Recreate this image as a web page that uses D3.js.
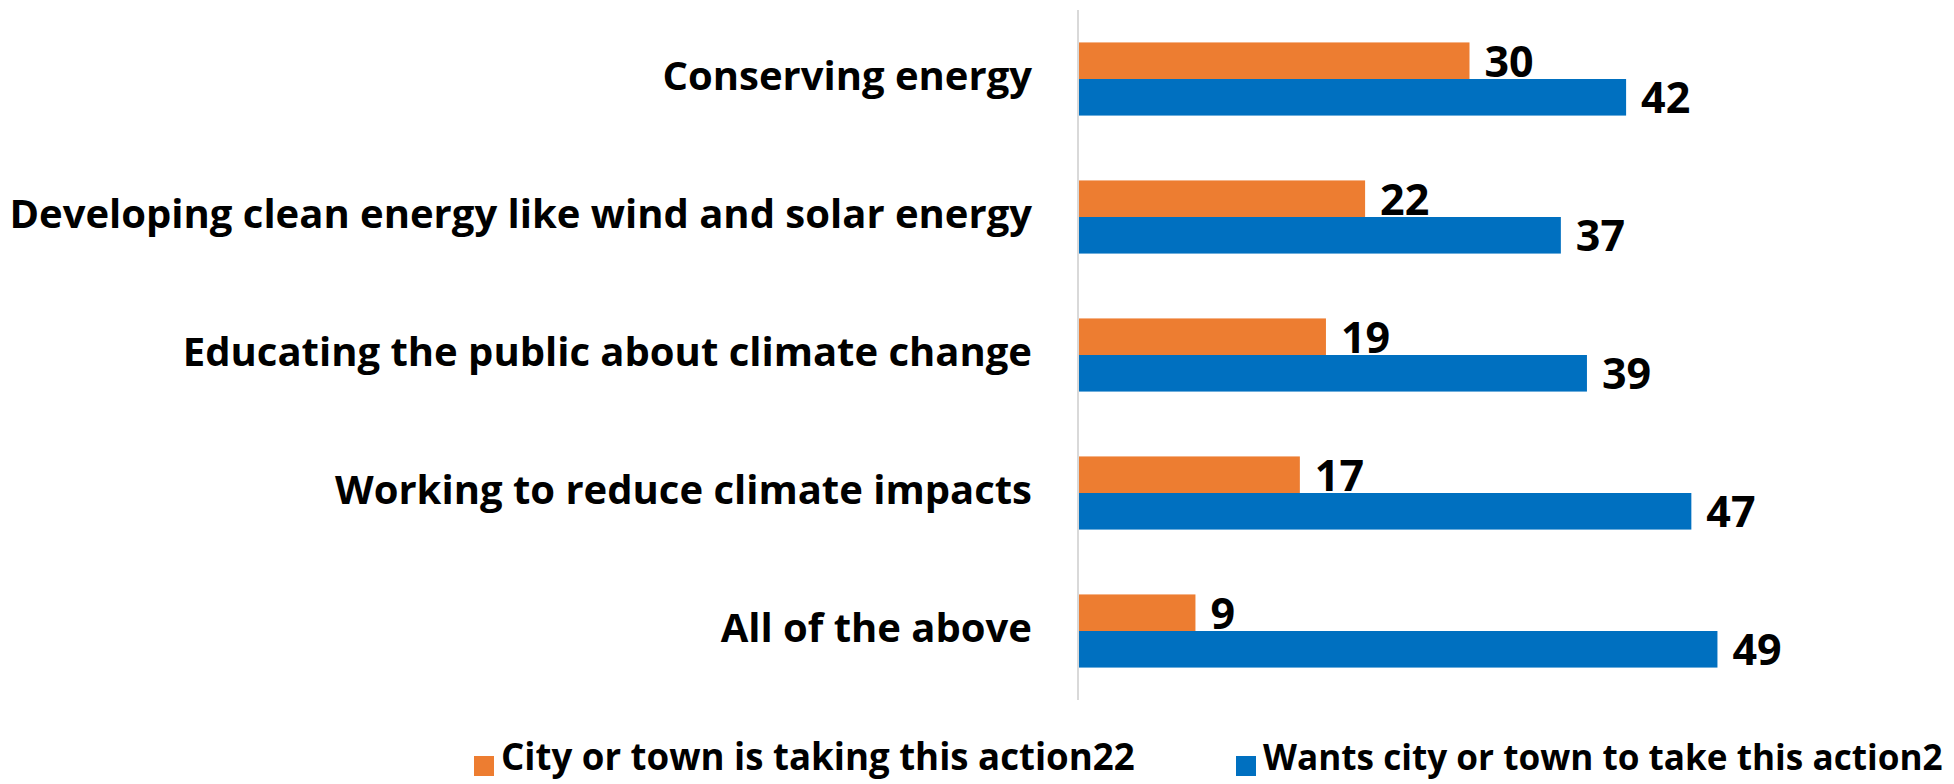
<!DOCTYPE html>
<html>
<head>
<meta charset="utf-8">
<script src="https://cdn.jsdelivr.net/npm/d3@7/dist/d3.min.js"></script>
<style>
  body { margin: 0; background: #ffffff; }
  text { font-family: "Open Sans", "Noto Sans", sans-serif; font-weight: bold; fill: #000000; }
</style>
</head>
<body>
<div id="chart"></div>
<script>
// categories, top to bottom
var categories = [
    "Conserving energy",
    "Developing clean energy like wind and solar energy",
    "Educating the public about climate change",
    "Working to reduce climate impacts",
    "All of the above"
];

// series
var seriesNames = ["City or town is taking this action22", "Wants city or town to take this action2"];
var takingValues = [30, 22, 19, 17, 9];
var wantsValues = [42, 37, 39, 47, 49];
var seriesColors = ["#ED7D31", "#0070C0"];

var width = 1954,
    height = 784;

//plot area
var plot = {left: 1078, right: 1861, top: 10, bottom: 700};

var svg = d3.select("#chart")
    .append("svg")
    .attr("width", width)
    .attr("height", height);

var x = d3.scaleLinear()
    .domain([0, 60])
    .range([plot.left, plot.right]);

var y = d3.scaleBand()
    .domain(categories)
    .range([plot.top, plot.bottom])
    .paddingInner(0.47)
    .paddingOuter(0.235);

var ySeries = d3.scaleBand()
    .domain([0, 1])
    .range([0, y.bandwidth()]);

//rows: one per category with both values
var rows = categories.map(function(c, i) {
    return {cat: c, values: [takingValues[i], wantsValues[i]]};
});

//bars
var groups = svg.append("g").attr("class", "bars")
    .selectAll("g")
    .data(rows).enter()
    .append("g")
    .attr("transform", function(d) { return "translate(0," + y(d.cat) + ")"; });

groups.selectAll("rect")
    .data(function(d) { return d.values.map(function(v, k) { return {k: k, v: v}; }); })
    .enter().append("rect")
    .attr("x", x(0))
    .attr("y", function(d) { return ySeries(d.k); })
    .attr("width", function(d) { return x(d.v) - x(0); })
    .attr("height", ySeries.bandwidth())
    .attr("fill", function(d) { return seriesColors[d.k]; });

//value labels
groups.selectAll("text")
    .data(function(d) { return d.values.map(function(v, k) { return {k: k, v: v}; }); })
    .enter().append("text")
    .attr("x", function(d) { return x(d.v) + 15; })
    .attr("y", function(d) { return ySeries(d.k) + ySeries.bandwidth() / 2 + 16; })
    .style("font-size", "43px")
    .text(function(d) { return d.v; });

//vertical axis line
svg.append("line")
    .attr("x1", x(0)).attr("x2", x(0))
    .attr("y1", plot.top).attr("y2", plot.bottom)
    .attr("stroke", "#D9D9D9")
    .attr("stroke-width", 2);

//category labels
svg.append("g").attr("class", "labels")
    .selectAll("text")
    .data(categories).enter()
    .append("text")
    .attr("x", 1032)
    .attr("y", function(d) { return y(d) + y.bandwidth() / 2 + 11; })
    .attr("text-anchor", "end")
    .style("font-size", "40px")
    .text(function(d) { return d; });

//legend
var legendX = [474, 1236];
var legendWidth = [634, 680];
var legend = svg.append("g").attr("class", "legend")
    .selectAll("g")
    .data(seriesNames).enter()
    .append("g")
    .attr("transform", function(d, i) { return "translate(" + legendX[i] + ",0)"; });

legend.append("rect")
    .attr("x", 0).attr("y", 756)
    .attr("width", 20).attr("height", 20)
    .attr("fill", function(d, i) { return seriesColors[i]; });

legend.append("text")
    .attr("x", 27)
    .attr("y", 770)
    .style("font-size", "37px")
    .text(function(d) { return d; })
    .each(function(d, i) {
        //fit font size to the width of the original legend entry
        var w = this.getComputedTextLength();
        d3.select(this).style("font-size", (37 * legendWidth[i] / w) + "px");
    });
</script>
</body>
</html>
